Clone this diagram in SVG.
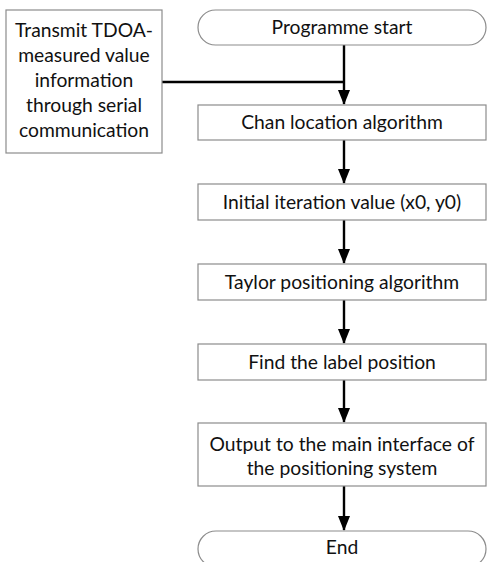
<svg xmlns="http://www.w3.org/2000/svg" width="487" height="562" viewBox="0 0 487 562">
<style>
.box{fill:#fff;stroke:#8c8c8c;stroke-width:1.2}
.t{font-family:"Lato","Liberation Sans",sans-serif;font-size:19.3px;fill:#111;text-anchor:middle}
.c{fill:none;stroke:#000;stroke-width:2.4}
</style>
<defs>
<marker id="ah" markerUnits="userSpaceOnUse" markerWidth="15" markerHeight="12" refX="14" refY="6" orient="auto" viewBox="0 0 15 12">
<path d="M0,0 L15,6 L0,12 Z" fill="#000"/>
</marker>
</defs>
<rect width="487" height="562" fill="#fff"/>
<g id="connectors">
<path class="c" d="M344,45 V104" marker-end="url(#ah)"/>
<path class="c" d="M162,82 H344"/>
<path class="c" d="M344,140 V183" marker-end="url(#ah)"/>
<path class="c" d="M344,220 V263" marker-end="url(#ah)"/>
<path class="c" d="M344,300 V343" marker-end="url(#ah)"/>
<path class="c" d="M344,380 V422" marker-end="url(#ah)"/>
<path class="c" d="M344,486 V530" marker-end="url(#ah)"/>
</g>
<g id="start"><rect class="box" x="198" y="10" width="288" height="35" rx="17.5"/><text class="t" x="342" y="34">Programme start</text></g>
<g id="transmit"><rect class="box" x="6" y="10" width="156" height="143"/>
<text class="t" x="84" y="37">Transmit TDOA-</text>
<text class="t" x="84" y="62">measured value</text>
<text class="t" x="84" y="87">information</text>
<text class="t" x="84" y="112">through serial</text>
<text class="t" x="84" y="137">communication</text></g>
<g id="chan"><rect class="box" x="198" y="105" width="288" height="35"/><text class="t" x="342" y="129">Chan location algorithm</text></g>
<g id="initial"><rect class="box" x="198" y="184" width="288" height="36"/><text class="t" x="342" y="209">Initial iteration value (x0, y0)</text></g>
<g id="taylor"><rect class="box" x="198" y="264" width="288" height="36"/><text class="t" x="342" y="289">Taylor positioning algorithm</text></g>
<g id="find"><rect class="box" x="198" y="344" width="288" height="36"/><text class="t" x="342" y="369">Find the label position</text></g>
<g id="output"><rect class="box" x="198" y="423" width="288" height="63"/><text class="t" x="342" y="451">Output to the main interface of</text><text class="t" x="342" y="475">the positioning system</text></g>
<g id="end"><rect class="box" x="198" y="531" width="288" height="36" rx="18"/><text class="t" x="342" y="554">End</text></g>
</svg>
